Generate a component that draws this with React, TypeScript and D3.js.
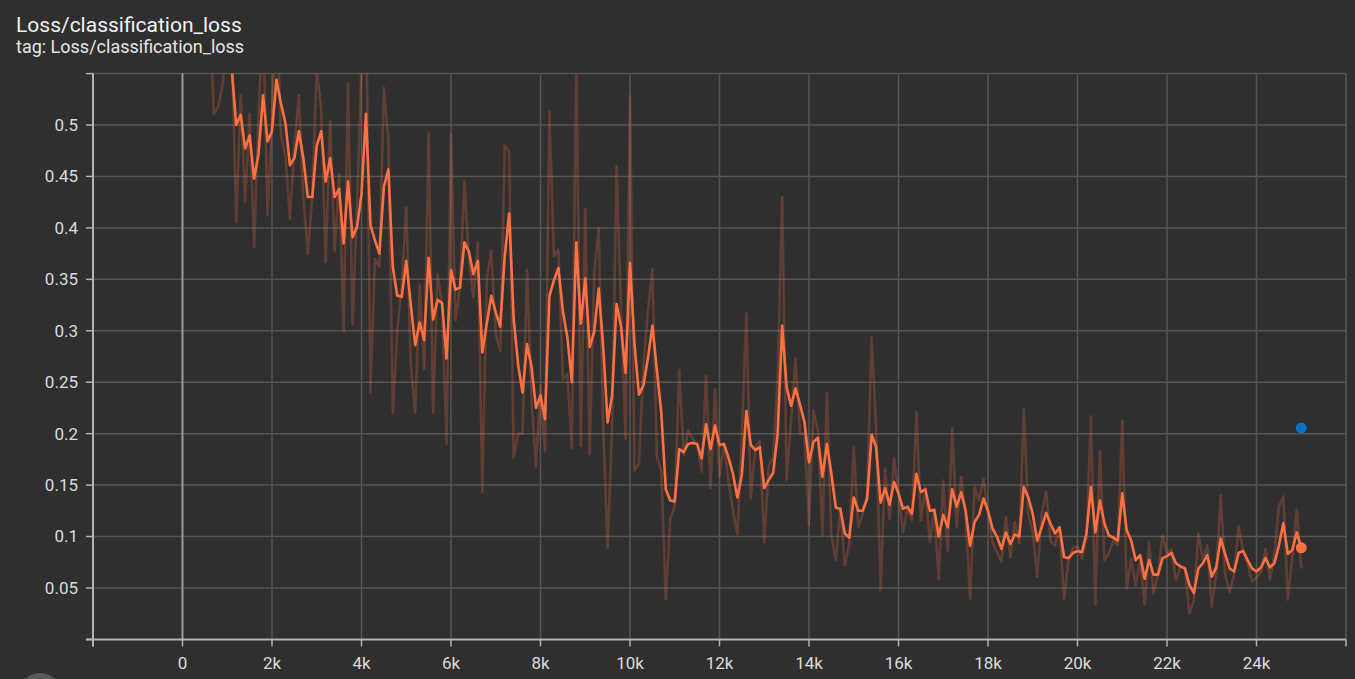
import * as d3 from "d3";

// logged every 100 steps, first visible point at step 600
const firstStep = 600;
const stepEvery = 100;

const rawLoss = [
  0.62, 0.511, 0.518, 0.54, 0.62, 0.58, 0.406, 0.529, 0.425, 0.511,
  0.381, 0.51, 0.61, 0.412, 0.51, 0.62, 0.49, 0.47, 0.409, 0.478,
  0.529, 0.43, 0.375, 0.43, 0.555, 0.515, 0.367, 0.504, 0.377, 0.452,
  0.299, 0.54, 0.306, 0.42, 0.56, 0.63, 0.24, 0.37, 0.362, 0.536,
  0.485, 0.22, 0.3, 0.345, 0.42, 0.268, 0.22, 0.345, 0.263, 0.493,
  0.22, 0.355, 0.326, 0.19, 0.49, 0.31, 0.342, 0.445, 0.37, 0.333,
  0.386, 0.143, 0.35, 0.378, 0.297, 0.28, 0.48, 0.474, 0.177, 0.2,
  0.2, 0.359, 0.232, 0.168, 0.247, 0.183, 0.513, 0.3725, 0.379, 0.253,
  0.258, 0.186, 0.57, 0.188, 0.418, 0.18, 0.356, 0.4, 0.208, 0.089,
  0.206, 0.46, 0.319, 0.195, 0.528, 0.164, 0.171, 0.265, 0.319, 0.36,
  0.178, 0.163, 0.039, 0.117, 0.13, 0.262, 0.179, 0.203, 0.195, 0.19,
  0.163, 0.256, 0.147, 0.243, 0.158, 0.19, 0.155, 0.125, 0.102, 0.197,
  0.317, 0.137, 0.187, 0.193, 0.0945, 0.169, 0.176, 0.255, 0.43, 0.155,
  0.213, 0.273, 0.2, 0.2, 0.111, 0.223, 0.203, 0.101, 0.24, 0.1,
  0.077, 0.128, 0.072, 0.093, 0.187, 0.109, 0.122, 0.141, 0.294, 0.206,
  0.0475, 0.166, 0.117, 0.176, 0.142, 0.104, 0.128, 0.116, 0.221, 0.116,
  0.148, 0.0945, 0.125, 0.0588, 0.1545, 0.0857, 0.2055, 0.109, 0.158, 0.122,
  0.039, 0.148, 0.135, 0.156, 0.122, 0.0945, 0.085, 0.0754, 0.119, 0.0796,
  0.114, 0.0932, 0.224, 0.122, 0.1045, 0.061, 0.122, 0.144, 0.0948, 0.0916,
  0.109, 0.0388, 0.077, 0.089, 0.09, 0.0786, 0.098, 0.2168, 0.0343, 0.183,
  0.077, 0.0835, 0.096, 0.0916, 0.2123, 0.0495, 0.0786, 0.0527, 0.077, 0.0343,
  0.0948, 0.0447, 0.064, 0.101, 0.0834, 0.088, 0.0574, 0.07, 0.0697, 0.025,
  0.038, 0.1028, 0.077, 0.0914, 0.0315, 0.064, 0.14, 0.0623, 0.046, 0.064,
  0.11, 0.0866, 0.0736, 0.0558, 0.0607, 0.0655, 0.088, 0.058, 0.0834, 0.129,
  0.139, 0.0386, 0.08, 0.126, 0.0688,
];

const smoothedLoss = [
  0.7, 0.64, 0.6, 0.575, 0.565, 0.555, 0.5, 0.51, 0.477, 0.49,
  0.448, 0.472, 0.529, 0.484, 0.494, 0.544, 0.521, 0.502, 0.461, 0.468,
  0.494, 0.468, 0.43, 0.43, 0.48, 0.494, 0.445, 0.468, 0.43, 0.438,
  0.385, 0.445, 0.391, 0.401, 0.433, 0.511, 0.403, 0.388, 0.375, 0.44,
  0.457, 0.362, 0.334, 0.333, 0.368, 0.326, 0.286, 0.308, 0.291, 0.371,
  0.311, 0.33, 0.327, 0.273, 0.359, 0.34, 0.342, 0.386, 0.377, 0.355,
  0.368, 0.279, 0.307, 0.334, 0.318, 0.304, 0.372, 0.414, 0.312, 0.267,
  0.24, 0.287, 0.265, 0.225, 0.237, 0.214, 0.334, 0.349, 0.361, 0.319,
  0.294, 0.25, 0.386, 0.307, 0.351, 0.284, 0.299, 0.341, 0.285, 0.211,
  0.237, 0.326, 0.304, 0.259, 0.366, 0.287, 0.238, 0.247, 0.273, 0.305,
  0.262, 0.22, 0.146, 0.135, 0.134, 0.185, 0.182, 0.19, 0.191, 0.19,
  0.176, 0.209, 0.185, 0.208, 0.189, 0.19, 0.177, 0.161, 0.138, 0.16,
  0.222, 0.189, 0.184, 0.187, 0.147, 0.155, 0.162, 0.2, 0.305, 0.245,
  0.227, 0.244, 0.228, 0.211, 0.172, 0.192, 0.196, 0.158, 0.19, 0.161,
  0.128, 0.127, 0.103, 0.099, 0.138, 0.125, 0.125, 0.137, 0.199, 0.187,
  0.133, 0.147, 0.131, 0.153, 0.142, 0.127, 0.129, 0.122, 0.161, 0.143,
  0.146, 0.125, 0.126, 0.1, 0.121, 0.109, 0.146, 0.129, 0.143, 0.125,
  0.091, 0.114, 0.121, 0.137, 0.125, 0.108, 0.1, 0.088, 0.104, 0.093,
  0.102, 0.1, 0.148, 0.138, 0.122, 0.096, 0.109, 0.123, 0.112, 0.103,
  0.109, 0.08, 0.079, 0.084, 0.086, 0.085, 0.103, 0.148, 0.104, 0.135,
  0.113, 0.101, 0.099, 0.096, 0.142, 0.106, 0.096, 0.077, 0.082, 0.059,
  0.077, 0.063, 0.063, 0.079, 0.081, 0.084, 0.074, 0.071, 0.069, 0.053,
  0.045, 0.069, 0.074, 0.082, 0.061, 0.07, 0.098, 0.083, 0.069, 0.066,
  0.084, 0.086, 0.077, 0.069, 0.066, 0.07, 0.079, 0.07, 0.074, 0.091,
  0.113, 0.083, 0.087, 0.104, 0.089,
];

// second run: a single logged point
const otherRunSteps = [25000];
const otherRunLoss = [0.2055];

const xTicks = [-2000, 0, 2000, 4000, 6000, 8000, 10000, 12000, 14000, 16000, 18000, 20000, 22000, 24000, 26000];
const xTickLabels = ["", "0", "2k", "4k", "6k", "8k", "10k", "12k", "14k", "16k", "18k", "20k", "22k", "24k", ""];
const yTicks = [0, 0.05, 0.1, 0.15, 0.2, 0.25, 0.3, 0.35, 0.4, 0.45, 0.5, 0.55];
const yTickLabels = ["", "0.05", "0.1", "0.15", "0.2", "0.25", "0.3", "0.35", "0.4", "0.45", "0.5", ""];

const width = 1355;
const height = 679;
const plot = { left: 93, right: 1346, top: 73.6, bottom: 639.4 };
const bg = "#2f2f2f";
const orange = "#ff7043";
const font = "Roboto, 'Noto Sans', sans-serif";

type Pt = { step: number; value: number };

export default function App() {
  const x = d3.scaleLinear().domain([-2000, 26000]).range([plot.left, plot.right]);
  const y = d3.scaleLinear().domain([0, 0.55]).range([plot.bottom, plot.top]);

  const raw: Pt[] = rawLoss.map((v, i) => ({ step: firstStep + i * stepEvery, value: v }));
  const smooth: Pt[] = smoothedLoss.map((v, i) => ({ step: firstStep + i * stepEvery, value: v }));
  const last = smooth[smooth.length - 1];

  const line = d3.line<Pt>().x((d) => x(d.step)).y((d) => y(d.value));

  return (
    <svg
      width={width}
      height={height}
      viewBox={`0 0 ${width} ${height}`}
      style={{ position: "fixed", left: 0, top: 0, display: "block" }}
      fontFamily={font}
    >
      <defs>
        <clipPath id="plotClip">
          <rect x={plot.left} y={plot.top} width={plot.right - plot.left} height={plot.bottom - plot.top} />
        </clipPath>
      </defs>
      <rect width={width} height={height} fill={bg} />

      <text x={16} y={32} fontSize={21} fill="#f2f2f2">Loss/classification_loss</text>
      <text x={16} y={53} fontSize={18} fill="#e6e6e6">tag: Loss/classification_loss</text>

      {/* grid */}
      <g>
        {yTicks.filter((t) => t > 0).map((t) => (
          <line key={"gy" + t} x1={plot.left} x2={plot.right} y1={y(t)} y2={y(t)} stroke="#565656" strokeWidth={1.5} />
        ))}
        {xTicks.filter((t) => t !== -2000).map((t) => (
          <line
            key={"gx" + t}
            x1={x(t)}
            x2={x(t)}
            y1={plot.top}
            y2={plot.bottom}
            stroke={t === 0 ? "#9a9a9a" : "#565656"}
            strokeWidth={t === 0 ? 2 : 1.5}
          />
        ))}
      </g>

      {/* series */}
      <g clipPath="url(#plotClip)">
        <path d={line(raw) ?? ""} fill="none" stroke={orange} strokeOpacity={0.24} strokeWidth={2.6} strokeLinejoin="round" />
        <path d={line(smooth) ?? ""} fill="none" stroke={orange} strokeWidth={2.6} strokeLinejoin="round" />
      </g>
      {otherRunSteps.map((s, i) => (
        <circle key={"o" + s} cx={x(s)} cy={y(otherRunLoss[i])} r={5.5} fill="#0b72c4" />
      ))}
      <circle cx={x(last.step)} cy={y(last.value)} r={5.5} fill={orange} />

      {/* axes */}
      <line x1={plot.left} x2={plot.left} y1={plot.top} y2={plot.bottom + 7} stroke="#b4b4b4" strokeWidth={2} />
      <line x1={plot.left - 7} x2={plot.right} y1={plot.bottom} y2={plot.bottom} stroke="#b4b4b4" strokeWidth={2} />
      {yTicks.map((t, i) => (
        <g key={"yt" + t}>
          <line x1={plot.left - 7} x2={plot.left} y1={y(t)} y2={y(t)} stroke="#b4b4b4" strokeWidth={1.5} />
          <text x={78} y={y(t)} dy="0.35em" textAnchor="end" fontSize={17} fill="#dcdcdc">{yTickLabels[i]}</text>
        </g>
      ))}
      {xTicks.map((t, i) => (
        <g key={"xt" + t}>
          <line x1={x(t)} x2={x(t)} y1={plot.bottom} y2={plot.bottom + 7} stroke="#b4b4b4" strokeWidth={1.5} />
          <text x={x(t)} y={669} textAnchor="middle" fontSize={17} fill="#dcdcdc">{xTickLabels[i]}</text>
        </g>
      ))}

      <circle cx={40} cy={695} r={22} fill="#5a5a5a" />
    </svg>
  );
}
